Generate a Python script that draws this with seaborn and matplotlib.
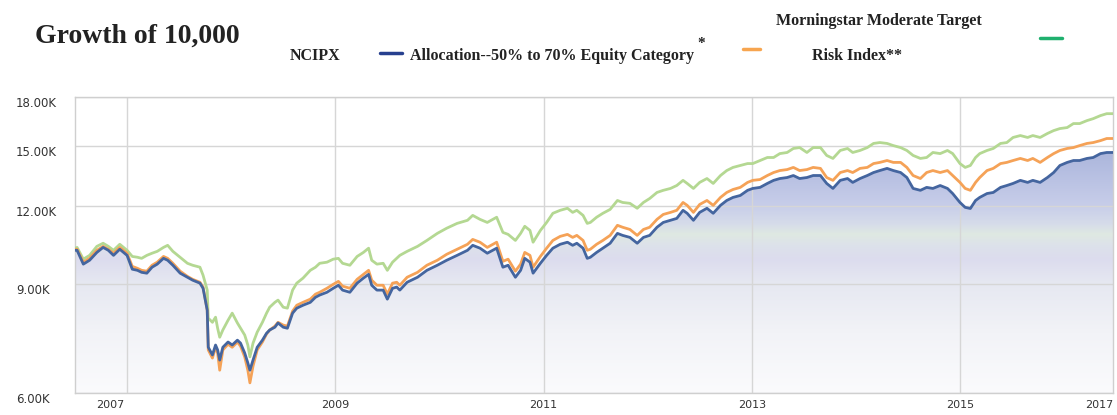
import numpy as np
import pandas as pd
import matplotlib
matplotlib.use("Agg")
import matplotlib.pyplot as plt
import seaborn as sns
from matplotlib.colors import LinearSegmentedColormap
from matplotlib.lines import Line2D
from matplotlib.ticker import FixedLocator, NullLocator

# ---------------- data ----------------
years = [2007.50, 2007.52, 2007.58, 2007.64, 2007.71, 2007.77, 2007.82, 2007.87, 2007.93, 2008.00,
         2008.05, 2008.10, 2008.14, 2008.19, 2008.24, 2008.29, 2008.35, 2008.39, 2008.44, 2008.51,
         2008.58, 2008.63, 2008.70, 2008.73, 2008.77, 2008.78, 2008.82, 2008.85, 2008.87, 2008.89,
         2008.92, 2008.97, 2009.01, 2009.06, 2009.09, 2009.13, 2009.16, 2009.18, 2009.21, 2009.25,
         2009.30, 2009.34, 2009.37, 2009.42, 2009.45, 2009.50, 2009.54, 2009.59, 2009.63, 2009.69,
         2009.76, 2009.81, 2009.85, 2009.92, 2009.98, 2010.03, 2010.07, 2010.14, 2010.21, 2010.27,
         2010.32, 2010.35, 2010.40, 2010.46, 2010.50, 2010.55, 2010.59, 2010.62, 2010.69, 2010.79,
         2010.88, 2010.98, 2011.07, 2011.17, 2011.27, 2011.32, 2011.39, 2011.46, 2011.55, 2011.61,
         2011.66, 2011.73, 2011.78, 2011.82, 2011.87, 2011.90, 2011.97, 2012.03, 2012.09, 2012.16,
         2012.23, 2012.28, 2012.32, 2012.38, 2012.42, 2012.45, 2012.51, 2012.57, 2012.64, 2012.71,
         2012.76, 2012.83, 2012.90, 2012.96, 2013.02, 2013.09, 2013.15, 2013.22, 2013.28, 2013.34,
         2013.38, 2013.44, 2013.50, 2013.57, 2013.63, 2013.70, 2013.76, 2013.82, 2013.89, 2013.96,
         2014.01, 2014.08, 2014.15, 2014.21, 2014.27, 2014.34, 2014.40, 2014.46, 2014.53, 2014.59,
         2014.66, 2014.72, 2014.78, 2014.85, 2014.92, 2014.97, 2015.04, 2015.11, 2015.17, 2015.23,
         2015.30, 2015.36, 2015.43, 2015.49, 2015.55, 2015.62, 2015.68, 2015.74, 2015.81, 2015.88,
         2015.93, 2016.00, 2016.05, 2016.10, 2016.15, 2016.19, 2016.26, 2016.32, 2016.39, 2016.45,
         2016.51, 2016.58, 2016.65, 2016.70, 2016.77, 2016.84, 2016.90, 2016.96, 2017.03, 2017.09,
         2017.15, 2017.22, 2017.28, 2017.35, 2017.41, 2017.47]

ncipx = [10190, 10190, 9680, 9820, 10110, 10300, 10190, 10000, 10230, 10000,
         9500, 9460, 9390, 9360, 9570, 9680, 9890, 9820, 9640, 9360,
         9220, 9120, 9020, 8850, 8160, 7110, 6910, 7170, 7040, 6780,
         7110, 7250, 7170, 7300, 7220, 6960, 6710, 6530, 6780, 7110,
         7300, 7490, 7580, 7660, 7780, 7660, 7630, 8070, 8220, 8310,
         8400, 8560, 8630, 8720, 8850, 8950, 8790, 8720, 9020, 9190,
         9320, 8950, 8790, 8790, 8500, 8850, 8890, 8790, 9050, 9220,
         9460, 9640, 9820, 10000, 10190, 10380, 10270, 10080, 10270, 9570,
         9640, 9220, 9460, 9890, 9750, 9360, 9710, 10000, 10270, 10420,
         10500, 10380, 10460, 10270, 9890, 9930, 10110, 10270, 10460, 10850,
         10770, 10690, 10460, 10690, 10770, 11100, 11300, 11390, 11470, 11820,
         11690, 11390, 11730, 11910, 11690, 12040, 12260, 12400, 12490, 12730,
         12820, 12870, 13060, 13210, 13300, 13350, 13450, 13300, 13350, 13450,
         13450, 13060, 12820, 13210, 13300, 13110, 13300, 13450, 13600, 13700,
         13810, 13700, 13600, 13350, 12820, 12730, 12870, 12820, 12960, 12820,
         12580, 12170, 11950, 11900, 12260, 12400, 12580, 12630, 12870, 12960,
         13060, 13210, 13110, 13210, 13110, 13350, 13600, 13960, 14120, 14220,
         14220, 14330, 14380, 14590, 14650, 14650]

allocation = [10230, 10230, 9750, 9890, 10190, 10340, 10230, 10080, 10300, 10080,
              9600, 9530, 9460, 9430, 9640, 9750, 9960, 9890, 9710, 9430,
              9250, 9150, 9050, 8890, 8160, 7040, 6830, 7110, 6960, 6530,
              7040, 7190, 7110, 7250, 7140, 6860, 6530, 6230, 6630, 7040,
              7250, 7470, 7580, 7690, 7800, 7720, 7690, 8130, 8310, 8400,
              8500, 8660, 8720, 8850, 8980, 9080, 8920, 8850, 9150, 9320,
              9460, 9120, 8950, 8950, 8660, 9020, 9050, 8950, 9220, 9390,
              9640, 9820, 10040, 10230, 10420, 10610, 10500, 10300, 10500, 9780,
              9860, 9430, 9680, 10110, 10000, 9570, 9960, 10270, 10570, 10730,
              10810, 10690, 10770, 10570, 10190, 10230, 10420, 10570, 10770, 11180,
              11100, 11010, 10770, 11010, 11100, 11430, 11640, 11730, 11820, 12170,
              12040, 11730, 12080, 12260, 12040, 12400, 12630, 12770, 12870, 13110,
              13210, 13250, 13450, 13600, 13700, 13750, 13860, 13700, 13750, 13860,
              13810, 13350, 13210, 13600, 13700, 13600, 13810, 13860, 14060, 14120,
              14220, 14120, 14120, 13860, 13450, 13300, 13600, 13700, 13600, 13700,
              13450, 13110, 12820, 12730, 13110, 13350, 13700, 13810, 14060, 14120,
              14220, 14330, 14220, 14330, 14120, 14380, 14590, 14760, 14870, 14920,
              15030, 15150, 15200, 15310, 15430, 15430]

morningstar = [10270, 10300, 9860, 10000, 10340, 10460, 10340, 10190, 10420, 10190,
               9960, 9930, 9890, 10000, 10080, 10150, 10300, 10380, 10150, 9930,
               9710, 9640, 9570, 9290, 8790, 7920, 7800, 7950, 7630, 7380,
               7580, 7860, 8070, 7780, 7630, 7440, 7170, 6860, 7220, 7520,
               7800, 8070, 8250, 8400, 8470, 8250, 8220, 8790, 9020, 9190,
               9460, 9570, 9710, 9750, 9860, 9890, 9710, 9640, 9960, 10110,
               10270, 9820, 9680, 9710, 9460, 9750, 9890, 10000, 10150, 10340,
               10570, 10850, 11060, 11260, 11390, 11600, 11430, 11300, 11520, 10890,
               10810, 10570, 10850, 11140, 10970, 10500, 10970, 11300, 11690, 11820,
               11910, 11730, 11820, 11600, 11260, 11300, 11520, 11690, 11860, 12260,
               12170, 12130, 11910, 12170, 12350, 12630, 12730, 12820, 12960, 13210,
               13060, 12820, 13110, 13300, 13060, 13450, 13700, 13860, 13960, 14060,
               14060, 14220, 14380, 14380, 14590, 14650, 14870, 14920, 14650, 14920,
               14920, 14490, 14330, 14760, 14870, 14650, 14760, 14920, 15150, 15200,
               15150, 15030, 14920, 14760, 14490, 14330, 14380, 14650, 14590, 14760,
               14590, 14060, 13860, 13960, 14380, 14590, 14760, 14870, 15150, 15200,
               15490, 15600, 15490, 15600, 15490, 15720, 15890, 16010, 16070, 16310,
               16310, 16490, 16610, 16800, 16920, 16920]

series_names = ["NCIPX",
                "Allocation--50% to 70% Equity Category",
                "Morningstar Moderate Target Risk Index"]
line_colors = ["#44659f", "#f5a257", "#b4d892"]
legend_colors = ["#27408f", "#f7a54f", "#1fb06e"]

y_ticks = [6000, 9000, 12000, 15000, 18000]
y_tick_labels = ["6.00K", "9.00K", "12.00K", "15.00K", "18.00K"]
x_gridlines = [2008, 2010, 2012, 2014, 2016]
x_label_pos = [2007.84, 2010.0, 2012.0, 2014.0, 2016.0, 2017.34]
x_tick_labels = ["2007", "2009", "2011", "2013", "2015", "2017"]

# ---------------- figure ----------------
sns.set_theme(style="white")
plt.rcParams["font.family"] = ["DejaVu Sans"]

W, H = 1117, 415
fig = plt.figure(figsize=(W / 100, H / 100), dpi=100)
fig.patch.set_facecolor("white")
ax = fig.add_axes([75 / W, 1 - 393 / H, (1113 - 75) / W, (393 - 97) / H])
ax.set_facecolor("white")

df = pd.DataFrame({"year": years,
                   series_names[0]: ncipx,
                   series_names[1]: allocation,
                   series_names[2]: morningstar})
long = df.melt(id_vars="year", var_name="series", value_name="value")

ax.set_yscale("log")

# gradient area under the NCIPX line
poly = ax.fill_between(years, 6000, ncipx, facecolor="none", edgecolor="none")
cmap = LinearSegmentedColormap.from_list("bg", [
    (0.00, "#fbfbfd"), (0.20, "#f2f3f7"), (0.37, "#e6e8f1"), (0.45, "#dcdcee"),
    (0.50, "#dde2ea"), (0.535, "#dfe9e2"), (0.57, "#d6dcea"), (0.635, "#c7cde9"),
    (0.75, "#b5bee1"), (0.85, "#a6b1d8"), (1.00, "#9aa7d3")])
grad = np.linspace(0, 1, 256).reshape(-1, 1)
img = ax.imshow(grad, extent=[0, 1, 0, 1], transform=ax.transAxes, origin="lower",
                aspect="auto", cmap=cmap, zorder=0.5, interpolation="bilinear")
img.set_clip_path(poly.get_paths()[0], ax.transData)

# vertical gridlines (year boundaries)
for gx in x_gridlines:
    ax.axvline(gx, color="#d6d6d6", linewidth=1, zorder=0.8)

sns.lineplot(data=long, x="year", y="value", hue="series",
             hue_order=[series_names[2], series_names[1], series_names[0]],
             palette={series_names[i]: line_colors[i] for i in range(3)},
             linewidth=2.0, ax=ax, legend=False, estimator=None, sort=False, zorder=3)

ax.set_xlim(years[0], years[-1])
ax.set_ylim(6000, 18000)

# y axis
ax.yaxis.set_major_locator(FixedLocator(y_ticks))
ax.yaxis.set_minor_locator(NullLocator())
ax.set_yticklabels(y_tick_labels)
ax.tick_params(axis="y", which="both", length=0, pad=42.5, labelsize=8.5, labelcolor="#333333")
for lbl in ax.get_yticklabels():
    lbl.set_horizontalalignment("left")
    lbl.set_verticalalignment("top")

# x axis
ax.xaxis.set_major_locator(FixedLocator(x_label_pos))
ax.xaxis.set_minor_locator(NullLocator())
ax.set_xticklabels(x_tick_labels)
ax.tick_params(axis="x", which="both", length=0, pad=5, labelsize=8, labelcolor="#333333")

ax.grid(False)
ax.grid(True, axis="y", which="major", color="#d6d6d6", linewidth=1)
ax.set_axisbelow(True)
for s in ax.spines.values():
    s.set_visible(True)
    s.set_color("#cfcfcf")
    s.set_linewidth(1)
ax.set_xlabel("")
ax.set_ylabel("")

# ---------------- title & legend ----------------
def fx(x):
    return x / W

def fy(y):
    return 1 - y / H

serif = ["Liberation Serif", "DejaVu Serif"]
fig.text(fx(35), fy(43), "Growth of 10,000", family=serif, fontsize=20,
         fontweight="bold", color="#222222", ha="left", va="baseline")

fig.text(fx(290), fy(60), "NCIPX", family=serif, fontsize=11.5, fontweight="bold",
         color="#222222", ha="left", va="baseline")
fig.add_artist(Line2D([fx(380), fx(402)], [fy(53), fy(53)], color=legend_colors[0],
                      linewidth=2.5, transform=fig.transFigure))

fig.text(fx(410), fy(60), "Allocation--50% to 70% Equity Category", family=serif,
         fontsize=11.5, fontweight="bold", color="#222222", ha="left", va="baseline")
fig.text(fx(697), fy(47), "*", family=serif, fontsize=11, fontweight="bold",
         color="#222222", ha="left", va="baseline")
fig.add_artist(Line2D([fx(743), fx(760)], [fy(49), fy(49)], color=legend_colors[1],
                      linewidth=2.5, transform=fig.transFigure))

fig.text(fx(776), fy(25), "Morningstar Moderate Target", family=serif, fontsize=11.5,
         fontweight="bold", color="#222222", ha="left", va="baseline")
fig.text(fx(812), fy(60), "Risk Index**", family=serif, fontsize=11.5,
         fontweight="bold", color="#222222", ha="left", va="baseline")
fig.add_artist(Line2D([fx(1040), fx(1062)], [fy(38), fy(38)], color=legend_colors[2],
                      linewidth=2.5, transform=fig.transFigure))

fig.savefig("out.png", dpi=100, facecolor="white")
